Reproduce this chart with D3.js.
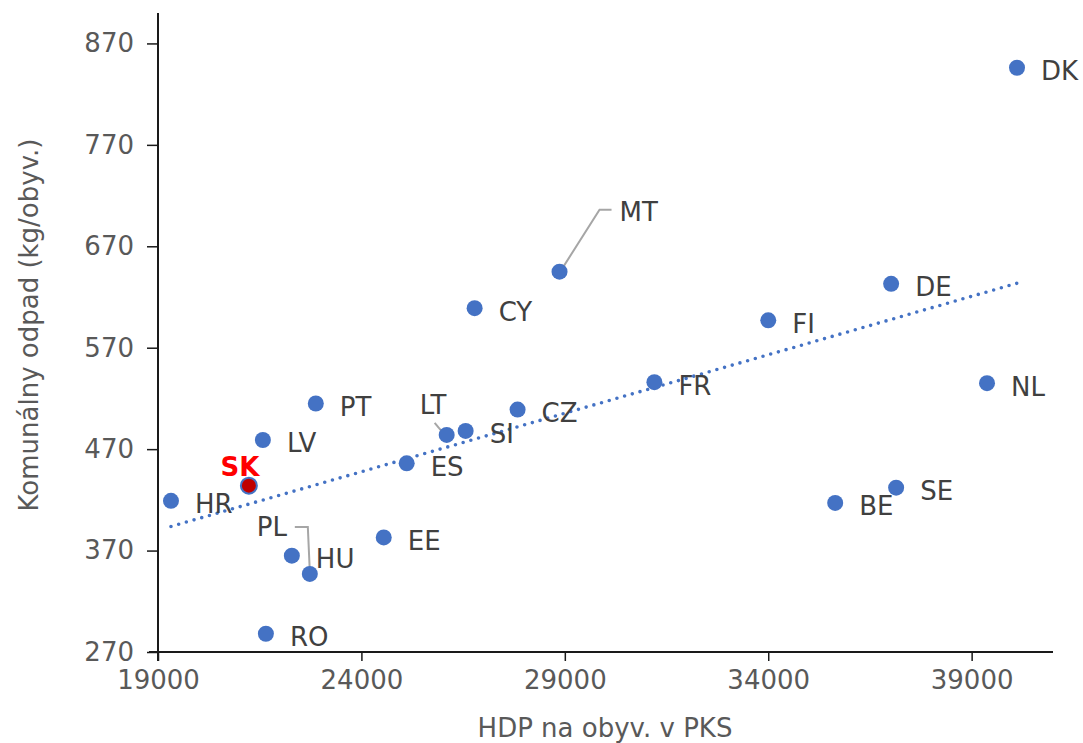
<!DOCTYPE html>
<html>
<head>
<meta charset="utf-8">
<script src="https://cdn.jsdelivr.net/npm/d3@7"></script>
<style>
  html, body { margin: 0; padding: 0; background: #fff; }
  svg { display: block; font-family: "DejaVu Sans", Verdana, sans-serif; }
</style>
</head>
<body>
<svg id="chart" width="1083" height="743"></svg>
<script>
// ---- data ----
const countries = ["DK","DE","FI","NL","FR","MT","CY","CZ","SI","LT","ES","EE","PT","LV","SK","HR","HU","PL","RO","BE","SE"];
const gdpPPS    = [40115,37021,34001,39378,31202,28870,26783,27839,26562,26096,25113,24549,22879,21578,21234,19319,22290,22732,21652,35646,37144];
const wasteKg   = [846,633,597,535,536,645,609,509,488,484,456,383,515,479,434,419,365,347,288,417,432];
const xTicks = [19000,24000,29000,34000,39000];
const yTicks = [270,370,470,570,670,770,870];
const xTitle = "HDP na obyv. v PKS";
const yTitle = "Komunálny odpad (kg/obyv.)";
const highlight = "SK";

// ---- layout ----
const svg = d3.select("#chart");
const x = d3.scaleLinear().domain([19000, 41000]).range([158, 1053]);
const y = d3.scaleLinear().domain([270, 900]).range([652, 13]);

const data = countries.map((c, i) => ({ c, gx: gdpPPS[i], wy: wasteKg[i] }));

// label placement (relative to point centre): [dx, dy, anchor]
const labelOff = {
  SK: [-9, -19, "middle"],
  LT: [-27, -30, "start"],
  MT: [60, -60, "start"],
  PL: [-53, -47, "start"]
};
const leaders = {
  MT: [[2,-2],[40,-62],[52,-62]],
  LT: [[-2,0],[-12,-12]],
  PL: [[0,-2],[-2,-47],[-15,-47]]
};

// ---- axes ----
const xAxis = svg.append("g").attr("transform", `translate(0,${y(270)})`)
  .call(d3.axisBottom(x).tickValues(xTicks).tickSize(9).tickPadding(10).tickFormat(d3.format("d")));
const yAxis = svg.append("g").attr("transform", `translate(${x(19000)},0)`)
  .call(d3.axisLeft(y).tickValues(yTicks).tickSize(11).tickPadding(13).tickFormat(d3.format("d")));
[xAxis, yAxis].forEach(g => {
  g.select(".domain").attr("stroke", "#1a1a1a").attr("stroke-width", 2);
  g.selectAll(".tick line").attr("stroke", "#1a1a1a").attr("stroke-width", 1.5);
  g.selectAll(".tick text").attr("fill", "#595959").attr("font-size", 26)
    .attr("font-family", "'DejaVu Sans', Verdana, sans-serif");
});
yAxis.select(".domain").attr("d", `M0,${y(900)}V${y(270)+9}`);
xAxis.select(".domain").attr("d", `M${x(19000)-9},0H${x(41000)}`);

// axis titles
svg.append("text").attr("x", 605).attr("y", 737).attr("text-anchor", "middle")
  .attr("font-size", 26).attr("fill", "#595959").text(xTitle);
svg.append("text").attr("transform", "translate(38,325) rotate(-90)").attr("text-anchor", "middle")
  .attr("font-size", 26).attr("fill", "#595959").text(yTitle);

// ---- trendline (least squares) ----
const reg = (() => {
  const mx = d3.mean(data, d => d.gx), my = d3.mean(data, d => d.wy);
  const sxy = d3.sum(data, d => (d.gx - mx) * (d.wy - my));
  const sxx = d3.sum(data, d => (d.gx - mx) ** 2);
  const b = sxy / sxx; return { a: my - b * mx, b };
})();
const [xmin, xmax] = d3.extent(data, d => d.gx);
svg.append("line")
  .attr("x1", x(xmin)).attr("y1", y(reg.a + reg.b * xmin))
  .attr("x2", x(xmax)).attr("y2", y(reg.a + reg.b * xmax))
  .attr("stroke", "#4472C4").attr("stroke-width", 3.6)
  .attr("stroke-linecap", "round").attr("stroke-dasharray", "0 8");

// ---- leader lines ----
data.filter(d => leaders[d.c]).forEach(d => {
  const px = x(d.gx), py = y(d.wy);
  svg.append("path")
    .attr("d", d3.line()(leaders[d.c].map(p => [px + p[0], py + p[1]])))
    .attr("fill", "none").attr("stroke", "#A6A6A6").attr("stroke-width", 2);
});

// ---- points ----
svg.append("g").selectAll("circle").data(data).join("circle")
  .attr("cx", d => x(d.gx)).attr("cy", d => y(d.wy)).attr("r", 8)
  .attr("fill", d => d.c === highlight ? "#C00000" : "#4472C4")
  .attr("stroke", "#4472C4").attr("stroke-width", d => d.c === highlight ? 2 : 0);

// ---- labels ----
svg.append("g").selectAll("text").data(data).join("text")
  .attr("x", d => x(d.gx) + (labelOff[d.c] ? labelOff[d.c][0] : 24))
  .attr("y", d => y(d.wy) + (labelOff[d.c] ? labelOff[d.c][1] : 3))
  .attr("dy", "0.36em")
  .attr("text-anchor", d => labelOff[d.c] ? labelOff[d.c][2] : "start")
  .attr("font-size", 26)
  .attr("font-weight", d => d.c === highlight ? "bold" : "normal")
  .attr("fill", d => d.c === highlight ? "#FF0000" : "#404040")
  .text(d => d.c);
</script>
</body>
</html>
